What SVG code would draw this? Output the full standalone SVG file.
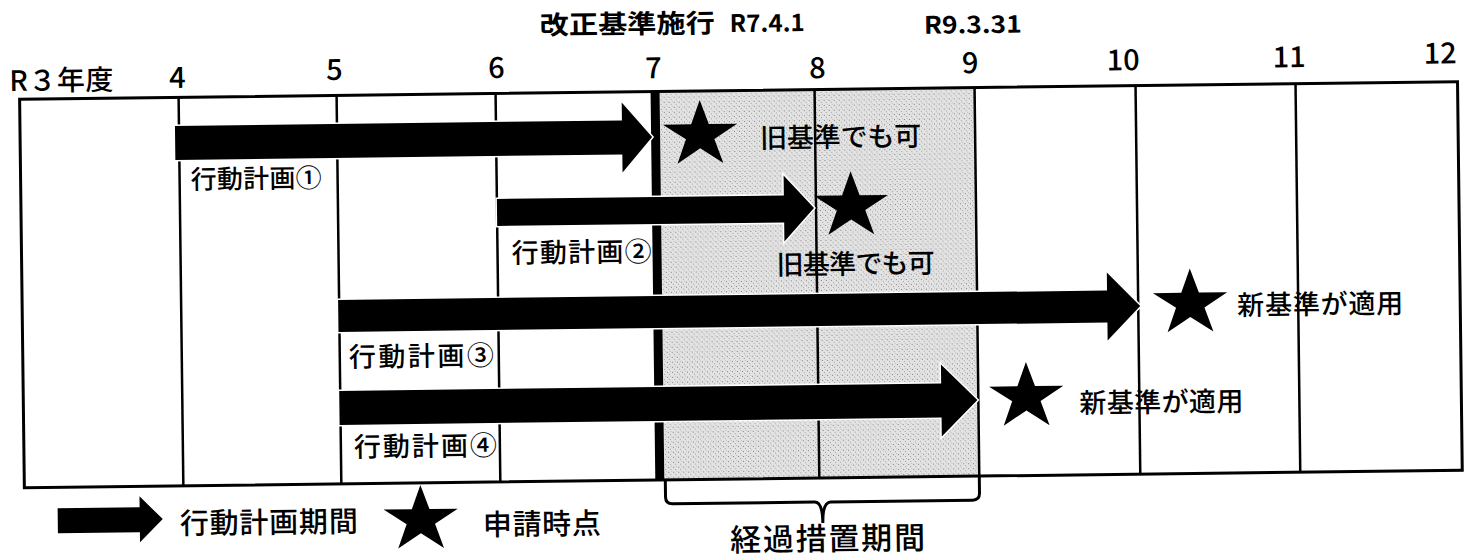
<svg xmlns="http://www.w3.org/2000/svg" width="1464" height="560" viewBox="0 0 1464 560">
<defs>
<style>
.jp{font-family:"Noto Sans CJK JP","Noto Sans",sans-serif;font-weight:500;fill:#000}
.num{font-family:"Noto Sans CJK JP","Noto Sans",sans-serif;font-weight:500;font-size:29px;fill:#000;text-anchor:middle}
.ttl{font-family:"Noto Sans CJK JP","Noto Sans",sans-serif;font-weight:bold;fill:#000}
.grid{stroke:#000;stroke-width:2.5;fill:none}
.arrow{fill:#000;stroke:#fff;stroke-width:3;paint-order:stroke}
</style>
<pattern id="dots" width="5" height="5" patternUnits="userSpaceOnUse">
<rect width="5" height="5" fill="#e3e3e3"/>
<rect x="1" y="1" width="1" height="1" fill="#808080"/>
<rect x="3" y="3" width="1" height="1" fill="#a0a0a0"/>
<rect x="4" y="0" width="1" height="1" fill="#bdbdbd"/>
</pattern>
<path id="star" d="M0,-35 L8.8,-10.8 L37.1,-10.8 L14.2,4.1 L22.9,28.4 L0,13.4 L-22.9,28.4 L-14.2,4.1 L-37.1,-10.8 L-8.8,-10.8 Z" fill="#000"/>
</defs>
<rect width="1464" height="560" fill="#fff"/>
<g transform="rotate(-0.7 740 290)">
<g id="title">
<text class="ttl" x="543" y="32" font-size="26" textLength="175" lengthAdjust="spacingAndGlyphs">改正基準施行</text>
<text class="ttl" x="733" y="32" font-size="24" textLength="75" lengthAdjust="spacingAndGlyphs">R7.4.1</text>
<text class="ttl" x="927" y="36" font-size="24" textLength="98" lengthAdjust="spacingAndGlyphs">R9.3.31</text>
</g>
<g id="axis-labels">
<text class="jp" x="12" y="82" font-size="28" textLength="104" lengthAdjust="spacing">R３年度</text>
<text class="num" x="180" y="81">4</text>
<text class="num" x="337" y="75">5</text>
<text class="num" x="499" y="75">6</text>
<text class="num" x="656" y="77">7</text>
<text class="num" x="820" y="79">8</text>
<text class="num" x="973" y="76">9</text>
<text class="num" x="1126" y="75">10</text>
<text class="num" x="1292" y="74">11</text>
<text class="num" x="1443" y="72">12</text>
</g>
<g id="transition-zone">
<rect x="662" y="91" width="315" height="388" fill="url(#dots)"/>
</g>
<g id="grid">
<rect x="22" y="90.5" width="1438" height="388.5" fill="none" stroke="#000" stroke-width="3"/>
<line class="grid" x1="181" y1="90.5" x2="181" y2="479"/>
<line class="grid" x1="339" y1="90.5" x2="339" y2="479"/>
<line class="grid" x1="498" y1="90.5" x2="498" y2="479"/>
<line x1="657.5" y1="90.5" x2="657.5" y2="479" stroke="#000" stroke-width="9"/>
<line class="grid" x1="817" y1="90.5" x2="817" y2="479"/>
<line class="grid" x1="977" y1="90.5" x2="977" y2="479"/>
<line class="grid" x1="1138" y1="90.5" x2="1138" y2="479"/>
<line class="grid" x1="1298" y1="90.5" x2="1298" y2="479"/>
</g>
<g id="connectors">
<path class="arrow" d="M177,119 H624 V101 L654,136 L624,171 V153 H177 Z"/>
<path class="arrow" d="M498,196 H785 V176 L815,209 L785,242 V223 H498 Z"/>
<path class="arrow" d="M338,295 H1107 V277 L1140,311 L1107,345 V327 H338 Z"/>
<path class="arrow" d="M338,386 H940 V367 L976,403 L940,439 V420 H338 Z"/>
</g>
<g id="plan1">
<text class="jp" x="192" y="182" font-size="26" textLength="131" lengthAdjust="spacing">行動計画①</text>
<use href="#star" x="702" y="134.5"/>
<text class="jp" x="762" y="148" font-size="27" textLength="161" lengthAdjust="spacing">旧基準でも可</text>
</g>
<g id="plan2">
<text class="jp" x="512" y="260" font-size="27" textLength="140" lengthAdjust="spacing">行動計画②</text>
<use href="#star" x="852" y="207.5"/>
<text class="jp" x="777" y="275" font-size="27" textLength="158" lengthAdjust="spacing">旧基準でも可</text>
</g>
<g id="plan3">
<text class="jp" x="348" y="362" font-size="27" textLength="145" lengthAdjust="spacing">行動計画③</text>
<use href="#star" x="1190" y="309"/>
<text class="jp" x="1237" y="321" font-size="27" textLength="166" lengthAdjust="spacing">新基準が適用</text>
</g>
<g id="plan4">
<text class="jp" x="352" y="452" font-size="27" textLength="143" lengthAdjust="spacing">行動計画④</text>
<use href="#star" x="1025" y="400.5"/>
<text class="jp" x="1078" y="417" font-size="27" textLength="164" lengthAdjust="spacing">新基準が適用</text>
</g>
<g id="transition-bracket">
<path d="M663,479 V496 Q663,503 670,503 H812 Q820,503 820,524 Q820,503 828,503 H970 Q977,503 977,496 V479" fill="none" stroke="#000" stroke-width="3"/>
<text class="jp" x="727" y="551" font-size="31" textLength="195" lengthAdjust="spacing">経過措置期間</text>
</g>
<g id="legend">
<path fill="#000" d="M55,500 H137 V489 L160,512 L137,535 V525 H55 Z"/>
<text class="jp" x="177" y="527" font-size="29" textLength="178" lengthAdjust="spacing">行動計画期間</text>
<use href="#star" x="418" y="516"/>
<text class="jp" x="480" y="532" font-size="29" textLength="118" lengthAdjust="spacing">申請時点</text>
</g>
</g>
</svg>
